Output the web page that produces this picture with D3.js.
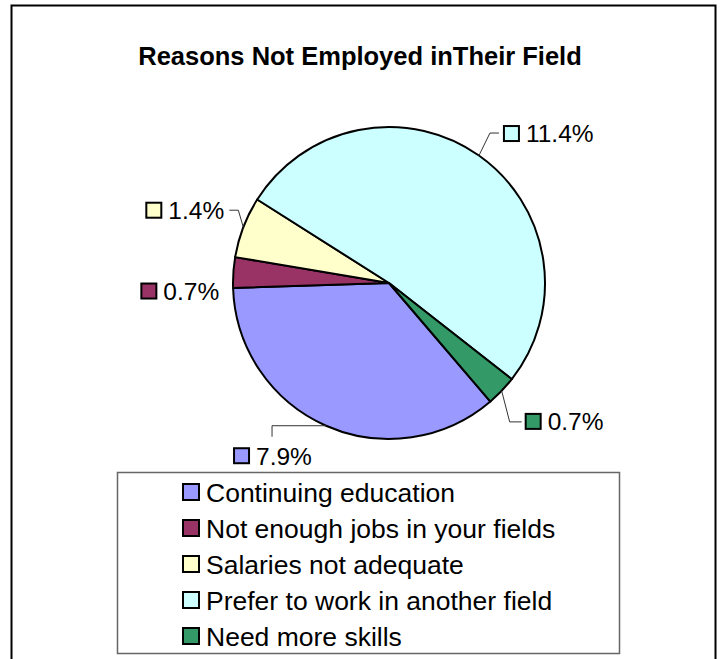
<!DOCTYPE html>
<html lang="en">
<head>
<meta charset="UTF-8">
<title>Reasons Not Employed inTheir Field</title>
<script src="https://d3js.org/d3.v7.min.js"></script>
<style>
    body { margin: 0; background: #fff; }
    svg text { font-family: "Liberation Sans", Arial, sans-serif; fill: #000; }
</style>
</head>
<body>
<div id="chart"></div>
<script>
    // chart data
    const categories = [
        "Continuing education",
        "Not enough jobs in your fields",
        "Salaries not adequate",
        "Prefer to work in another field",
        "Need more skills"
    ];
    const values = [7.9, 0.7, 1.4, 11.4, 0.7];
    const colors = ["#9999ff", "#993366", "#ffffcc", "#ccffff", "#339966"];

    // where each data label sits, relative to the slice's outer mid point
    const labelLayout = [
        { leader: [[-54, 0], [-54, 11]], box: [-93, 30] },
        { leader: [], box: [-93, 18.5] },
        { leader: [[-5, -17], [-14, -17]], box: [-98, -17] },
        { leader: [[11, -22.5], [20, -22.5]], box: [24, -22] },
        { leader: [[8, 31], [20, 31]], box: [23, 30.5] }
    ];

    const width = 721, height = 659;
    const cx = 389, cy = 283, radius = 156;
    const startDeg = 139.46;

    const svg = d3.select("#chart").append("svg")
        .attr("width", width)
        .attr("height", height);

    // outer chart border
    svg.append("rect")
        .attr("x", 11.5).attr("y", 5.5)
        .attr("width", 704).attr("height", 700)
        .attr("fill", "none")
        .attr("stroke", "#000")
        .attr("stroke-width", 2);

    svg.append("text")
        .attr("x", 360).attr("y", 65)
        .attr("text-anchor", "middle")
        .attr("font-size", "25.5px")
        .attr("font-weight", "bold")
        .text("Reasons Not Employed inTheir Field");

    const color = d3.scaleOrdinal().domain(categories).range(colors);

    const pie = d3.pie()
        .sort(null)
        .value(d => d.value)
        .startAngle(startDeg * Math.PI / 180)
        .endAngle(startDeg * Math.PI / 180 + 2 * Math.PI);

    const data = categories.map((c, i) => ({ name: c, value: values[i] }));
    const arcs = pie(data);

    const arc = d3.arc().innerRadius(0).outerRadius(radius);
    const edge = d3.arc().innerRadius(radius).outerRadius(radius);

    const g = svg.append("g").attr("transform", `translate(${cx},${cy})`);

    g.selectAll("path.slice")
        .data(arcs)
        .join("path")
        .attr("class", "slice")
        .attr("d", arc)
        .attr("fill", d => color(d.data.name))
        .attr("stroke", "#000")
        .attr("stroke-width", 2)
        .attr("stroke-linejoin", "round");

    const fmt = v => d3.format(".1f")(v) + "%";

    // leader lines + data labels
    arcs.forEach((d, i) => {
        const [ex, ey] = edge.centroid(d);
        const lay = labelLayout[i];
        if (lay.leader.length) {
            const pts = [[ex, ey]].concat(lay.leader.map(p => [ex + p[0], ey + p[1]]));
            g.append("path")
                .attr("d", d3.line()(pts))
                .attr("fill", "none")
                .attr("stroke", "#333")
                .attr("stroke-width", 1);
        }
        const bx = ex + lay.box[0], by = ey + lay.box[1];
        g.append("rect")
            .attr("x", bx + 1).attr("y", by - 7.5)
            .attr("width", 15).attr("height", 15)
            .attr("fill", color(d.data.name))
            .attr("stroke", "#000")
            .attr("stroke-width", 2);
        g.append("text")
            .attr("x", bx + 23).attr("y", by)
            .attr("dy", "0.36em")
            .attr("font-size", "24.5px")
            .text(fmt(d.data.value));
    });

    // legend
    const legend = svg.append("g");
    legend.append("rect")
        .attr("x", 117.5).attr("y", 472.5)
        .attr("width", 502).attr("height", 181)
        .attr("fill", "#fff")
        .attr("stroke", "#666")
        .attr("stroke-width", 1.5);

    const rowY = d3.scalePoint().domain(categories).range([492, 636]);

    const rows = legend.selectAll("g.row")
        .data(categories)
        .join("g")
        .attr("class", "row")
        .attr("transform", d => `translate(182,${rowY(d)})`);

    rows.append("rect")
        .attr("x", 1).attr("y", -8)
        .attr("width", 16).attr("height", 16)
        .attr("fill", d => color(d))
        .attr("stroke", "#000")
        .attr("stroke-width", 2);

    rows.append("text")
        .attr("x", 24).attr("y", 0)
        .attr("dy", "0.36em")
        .attr("font-size", "26.5px")
        .text(d => d);
</script>
</body>
</html>
